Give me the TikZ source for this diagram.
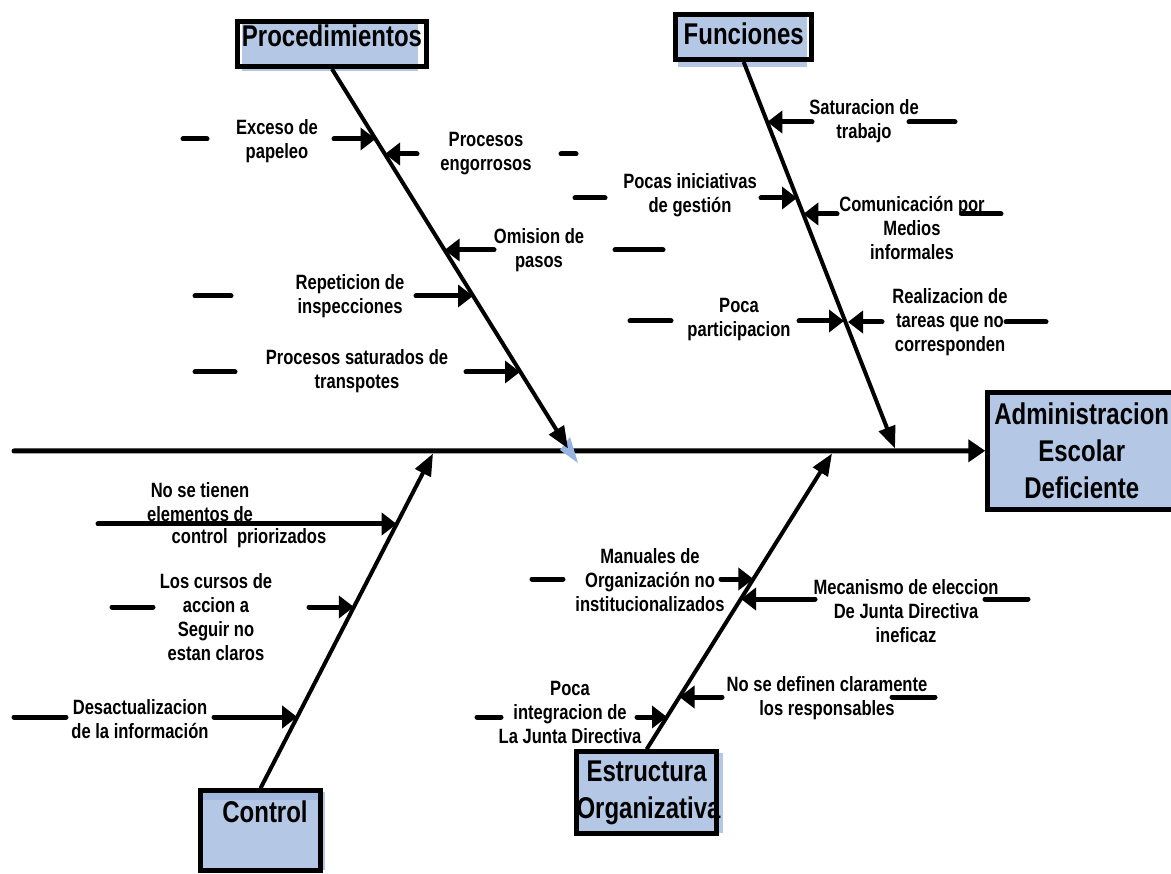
\documentclass[tikz,border=0pt]{standalone}
\usepackage{fontspec}
\newfontfamily\narrowsans[FakeStretch=0.8]{Liberation Sans}
\usetikzlibrary{arrows.meta}
\definecolor{boxblue}{RGB}{180,200,230}
\definecolor{boxbluedark}{RGB}{160,183,222}
\definecolor{tipblue}{RGB}{150,180,225}

\begin{document}
\begin{tikzpicture}[x=1pt,y=-1pt,
  causetext/.style={font=\narrowsans\bfseries\fontsize{20.7}{24}\selectfont, align=center, inner sep=0pt},
  headbox/.style={font=\narrowsans\bfseries\fontsize{30}{37}\selectfont, inner sep=0pt, draw, line width=5pt},
  spinearrow/.style={line width=5pt, line cap=round, -{Triangle[length=17pt,width=22pt]}},
  bonearrow/.style={line width=4pt, -{Triangle[length=22pt,width=17pt]}},
  causearrow/.style={line width=5pt, line cap=round, -{Triangle[length=15pt,width=22pt]}},
  stub/.style={line width=5pt, line cap=round},
]
\useasboundingbox (0,0) rectangle (1171,874);
\clip (0,0) rectangle (1171,874);

% blue fills of the category boxes (slightly offset from their frames)
\fill[boxblue] (242,23) rectangle (418,71);
\fill[boxblue] (678,15) rectangle (807,67);
\fill[boxblue] (202,792) rectangle (325,870);
\fill[boxbluedark] (202,792) rectangle (322,800);
\fill[boxblue] (577,753) rectangle (723,833);
\fill[boxblue] (987,392) rectangle (1171,510);

% category boxes and effect box
\node[headbox, minimum width=189.5pt, text height=25.5pt, text depth=19.5pt, anchor=base] (proc) at (332,47) {Procedimientos};
\node[headbox, minimum width=135.7pt, text height=30.2pt, text depth=14.5pt, anchor=base] (fun) at (743.7,45) {Funciones};
\node[headbox, minimum width=119.4pt, text height=31.2pt, text depth=48.2pt, anchor=base] (ctrl) at (260.5,822) {\hspace*{9pt}Control};
\node[headbox, align=center, text width=140.3pt, minimum height=81.7pt] (estr) at (646.65,792.6) {Estructura\\Organizativa};
\node[headbox, align=center, text width=188pt, minimum height=117pt] (admin) at (1081.75,450.8) {Administracion\\Escolar\\Deficiente};

% spine
\coordinate (tail) at (14,451);
\draw[spinearrow] (tail) -- (admin.west);

% main bones
\fill[tipblue] (560,450) -- (570,437) -- (578,463) -- cycle;
\coordinate (procTip) at (568,448.5);
\coordinate (funTip) at (895,448.5);
\coordinate (ctrlTip) at (433,453.5);
\coordinate (estrTip) at (832,453.5);
\draw[bonearrow] (proc.south) -- (procTip);
\draw[bonearrow] (fun.south) -- (funTip);
\draw[bonearrow] (ctrl.north) -- (ctrlTip);
\draw[bonearrow] (estr.north) -- (estrTip);

% Procedimientos causes
\coordinate (s1a) at (183,139); \coordinate (s1b) at (207,139);
\coordinate (a1) at (334,139);  \coordinate (t1) at (375.5,139);
\draw[stub] (s1a) -- (s1b); \draw[causearrow] (a1) -- (t1);
\node[causetext] (l1) at (277,141) {Exceso de\\papeleo};

\coordinate (a2) at (417,154);  \coordinate (t2) at (385,154);
\coordinate (s2a) at (561,154); \coordinate (s2b) at (576,154);
\draw[causearrow] (a2) -- (t2); \draw[stub] (s2a) -- (s2b);
\node[causetext] (l2) at (486,154) {Procesos\\engorrosos};

\coordinate (a3) at (494,250);  \coordinate (t3) at (444.6,250);
\coordinate (s3a) at (615,250); \coordinate (s3b) at (663,250);
\draw[causearrow] (a3) -- (t3); \draw[stub] (s3a) -- (s3b);
\node[causetext] (l3) at (539,250) {Omision de\\pasos};

\coordinate (s4a) at (195,296); \coordinate (s4b) at (231,296);
\coordinate (a4) at (416,296);  \coordinate (t4) at (473,296);
\draw[stub] (s4a) -- (s4b); \draw[causearrow] (a4) -- (t4);
\node[causetext] (l4) at (350,296) {Repeticion de\\inspecciones};

\coordinate (s5a) at (195,372); \coordinate (s5b) at (235,372);
\coordinate (a5) at (466,372);  \coordinate (t5) at (520,372);
\draw[stub] (s5a) -- (s5b); \draw[causearrow] (a5) -- (t5);
\node[causetext] (l5) at (357,371) {Procesos saturados de\\transpotes};

% Funciones causes
\coordinate (a6) at (812,122);  \coordinate (t6) at (767.3,122);
\coordinate (s6a) at (909,122); \coordinate (s6b) at (955,122);
\draw[causearrow] (a6) -- (t6); \draw[stub] (s6a) -- (s6b);
\node[causetext] (l6) at (864,121) {Saturacion de\\trabajo};

\coordinate (s7a) at (575,198); \coordinate (s7b) at (605,198);
\coordinate (a7) at (761,198);  \coordinate (t7) at (797,198);
\draw[stub] (s7a) -- (s7b); \draw[causearrow] (a7) -- (t7);
\node[causetext] (l7) at (690,195) {Pocas iniciativas\\de gestión};

\coordinate (a8) at (837,214);  \coordinate (t8) at (803.3,214);
\coordinate (s8a) at (962,214); \coordinate (s8b) at (1001,214);
\draw[causearrow] (a8) -- (t8); \draw[stub] (s8a) -- (s8b);
\node[causetext] (l8) at (912,228) {Comunicación por\\Medios\\informales};

\coordinate (s9a) at (630,321); \coordinate (s9b) at (671,321);
\coordinate (a9) at (799,321);  \coordinate (t9) at (844,321);
\draw[stub] (s9a) -- (s9b); \draw[causearrow] (a9) -- (t9);
\node[causetext] (l9) at (739,320) {Poca\\participacion};

\coordinate (a10) at (882,322);  \coordinate (t10) at (848,322);
\coordinate (s10a) at (1006,322); \coordinate (s10b) at (1046,322);
\draw[causearrow] (a10) -- (t10); \draw[stub] (s10a) -- (s10b);
\node[causetext] (l10) at (950,322) {Realizacion de\\tareas que no\\corresponden};

% Control causes
\coordinate (a11) at (98,524);  \coordinate (t11) at (396.7,524);
\draw[causearrow] (a11) -- (t11);
\node[causetext] (l11) at (200,502) {No se tienen\\elementos de};
\node[causetext] (l11b) at (249,538) {control\ \ priorizados};

\coordinate (s12a) at (112,607); \coordinate (s12b) at (153,607);
\coordinate (a12) at (309,607);  \coordinate (t12) at (353.9,607);
\draw[stub] (s12a) -- (s12b); \draw[causearrow] (a12) -- (t12);
\node[causetext] (l12) at (216,617) {Los cursos de\\accion a\\Seguir no\\estan claros};

\coordinate (s13a) at (14,717); \coordinate (s13b) at (66,717);
\coordinate (a13) at (214,717); \coordinate (t13) at (297.2,717);
\draw[stub] (s13a) -- (s13b); \draw[causearrow] (a13) -- (t13);
\node[causetext] (l13) at (140,719) {Desactualizacion\\de la información};

% Estructura Organizativa causes
\coordinate (s14a) at (532,579); \coordinate (s14b) at (563,579);
\coordinate (a14) at (721,579);  \coordinate (t14) at (753.4,579);
\draw[stub] (s14a) -- (s14b); \draw[causearrow] (a14) -- (t14);
\node[causetext] (l14) at (650,580) {Manuales de\\Organización no\\institucionalizados};

\coordinate (a15) at (815,599);  \coordinate (t15) at (741,599);
\coordinate (s15a) at (985,599); \coordinate (s15b) at (1028,599);
\draw[causearrow] (a15) -- (t15); \draw[stub] (s15a) -- (s15b);
\node[causetext] (l15) at (906,611) {Mecanismo de eleccion\\De Junta Directiva\\ineficaz};

\coordinate (a16) at (722,697);  \coordinate (t16) at (679.5,697);
\coordinate (s16a) at (892,697); \coordinate (s16b) at (935,697);
\draw[causearrow] (a16) -- (t16); \draw[stub] (s16a) -- (s16b);
\node[causetext] (l16) at (827,698) {No se definen claramente\\los responsables};

\coordinate (s17a) at (477,717); \coordinate (s17b) at (501,717);
\coordinate (a17) at (637,717);  \coordinate (t17) at (667,717);
\draw[stub] (s17a) -- (s17b); \draw[causearrow] (a17) -- (t17);
\node[causetext] (l17) at (570,712) {Poca\\integracion de\\La Junta Directiva};
\end{tikzpicture}
\end{document}
